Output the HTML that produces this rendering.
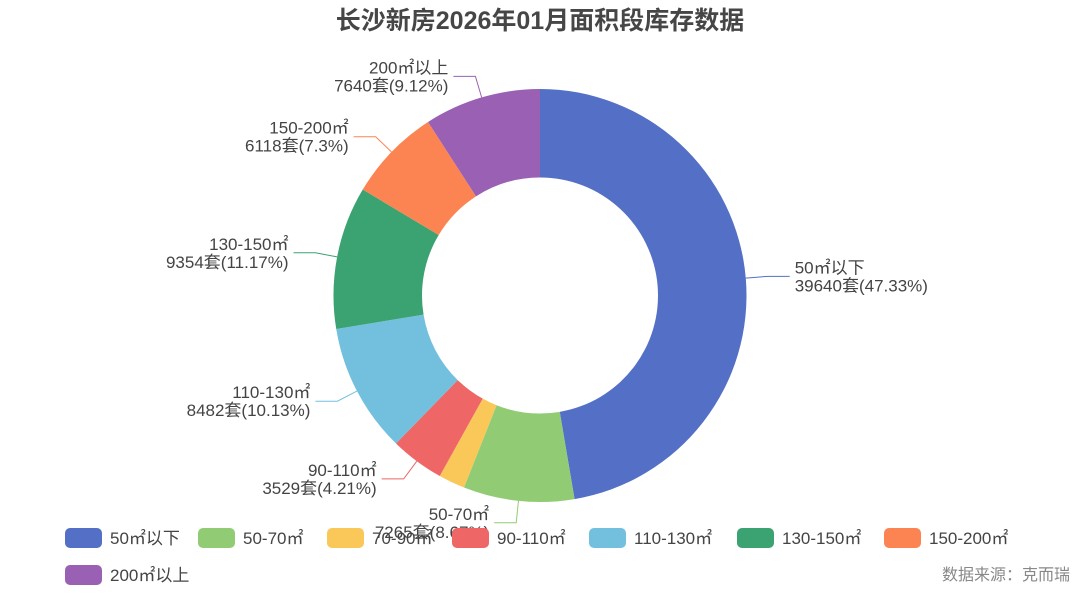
<!DOCTYPE html>
<html><head><meta charset="utf-8"><style>
body{margin:0;background:#fff;}
svg{display:block;font-family:"Liberation Sans","Noto Sans CJK SC",sans-serif;}
</style></head><body>
<svg id="chart" width="1080" height="593">
<text x="540" y="29" text-anchor="middle" font-size="25" font-weight="bold" fill="#464646">长沙新房2026年01月面积段库存数据</text>
<g id="slices"></g><g id="labels"></g><g id="legend"></g>
<text x="1070" y="580" text-anchor="end" font-size="16" fill="#888">数据来源：克而瑞</text>
</svg>
<script>
const categories=["50㎡以下","50-70㎡","70-90㎡","90-110㎡","110-130㎡","130-150㎡","150-200㎡","200㎡以上"];
const values=[39640,7265,1734,3529,8482,9354,6118,7640];
const percents=["47.33%","8.67%","2.07%","4.21%","10.13%","11.17%","7.3%","9.12%"];
const colors=["#5470c6","#91cc75","#fac858","#ee6666","#73c0de","#3ba272","#fc8452","#9a60b4"];
const NS="http://www.w3.org/2000/svg";
const cx=540,cy=295.5,R=206.5,r=118;
const total=values.reduce((a,b)=>a+b,0);
function pt(a,rad){return [cx+rad*Math.sin(a),cy-rad*Math.cos(a)];}
const gs=document.getElementById('slices'),gl=document.getElementById('labels'),gg=document.getElementById('legend');
let a0=0;
values.forEach((v,i)=>{
  const a1=a0+v/total*2*Math.PI,large=(a1-a0)>Math.PI?1:0;
  const p1=pt(a0,R),p2=pt(a1,R),p3=pt(a1,r),p4=pt(a0,r);
  const p=document.createElementNS(NS,'path');
  p.setAttribute('d',`M${p1[0]},${p1[1]}A${R},${R} 0 ${large} 1 ${p2[0]},${p2[1]}L${p3[0]},${p3[1]}A${r},${r} 0 ${large} 0 ${p4[0]},${p4[1]}Z`);
  p.setAttribute('fill',colors[i]);
  
  
  gs.appendChild(p);
  if(i!==2){
    const m=(a0+a1)/2,s=pt(m,R),e=pt(m,R+22);
    const right=Math.sin(m)>=0,hx=e[0]+(right?22:-22);
    const l=document.createElementNS(NS,'polyline');
    l.setAttribute('points',`${s[0]},${s[1]} ${e[0]},${e[1]} ${hx},${e[1]}`);
    l.setAttribute('fill','none');l.setAttribute('stroke',colors[i]);
    
    
    gl.appendChild(l);
    const t=document.createElementNS(NS,'text');
    t.setAttribute('x',hx+(right?5:-5));t.setAttribute('y',e[1]-3);
    t.setAttribute('text-anchor',right?'start':'end');t.setAttribute('font-size','17');t.setAttribute('fill','#444');
    
    
    t.innerHTML=`<tspan x="${hx+(right?5:-5)}">${categories[i]}</tspan><tspan x="${hx+(right?5:-5)}" dy="18">${values[i]}套(${percents[i]})</tspan>`;
    gl.appendChild(t);
  }
  a0=a1;
});
const lx=[65,198,327,452,589,737,884,65],ly=[528,528,528,528,528,528,528,565];
categories.forEach((c,i)=>{
  const g=document.createElementNS(NS,'g');
  
  
  const rc=document.createElementNS(NS,'rect');
  rc.setAttribute('x',lx[i]);rc.setAttribute('y',ly[i]);rc.setAttribute('width',37);rc.setAttribute('height',20);rc.setAttribute('rx',5);rc.setAttribute('fill',colors[i]);
  const t=document.createElementNS(NS,'text');
  t.setAttribute('x',lx[i]+45);t.setAttribute('y',ly[i]+16);t.setAttribute('font-size','17');t.setAttribute('fill','#444');
  t.textContent=c;
  g.appendChild(rc);g.appendChild(t);gg.appendChild(g);
});
</script>
</body></html>
